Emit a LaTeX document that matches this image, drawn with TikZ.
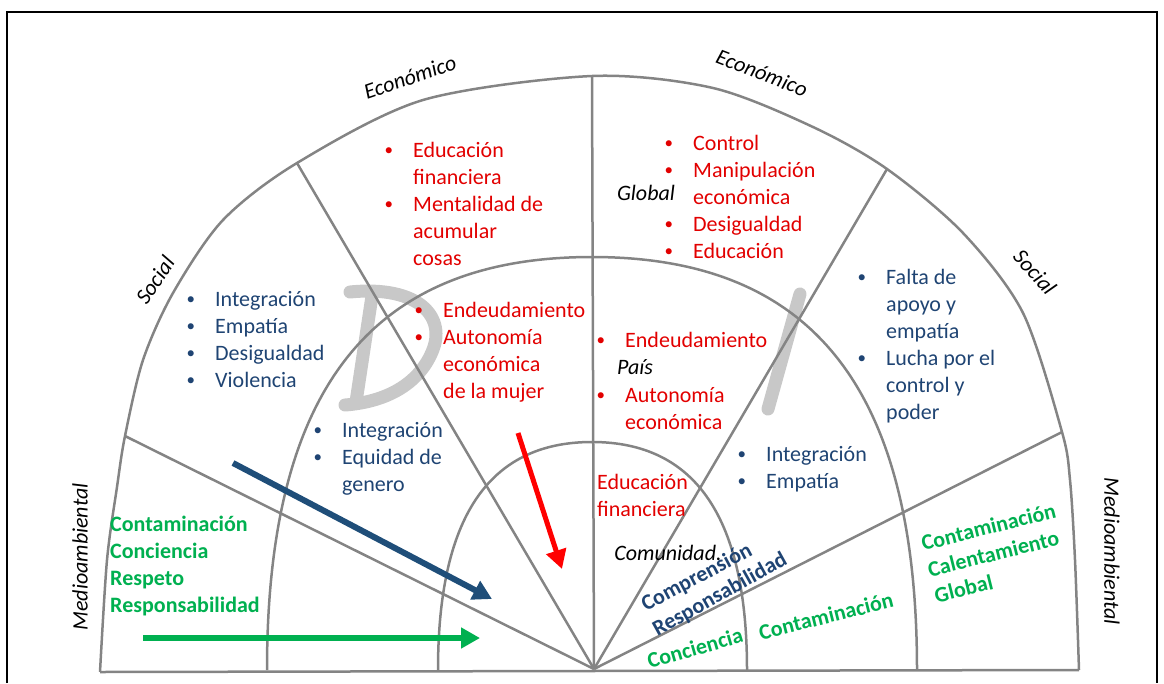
\documentclass[tikz,border=0pt]{standalone}
\usepackage{fontspec}
\setmainfont{Carlito}
\usetikzlibrary{arrows.meta}

\definecolor{linegray}{RGB}{132,132,132}
\definecolor{textred}{RGB}{226,0,0}
\definecolor{textblue}{RGB}{31,68,115}
\definecolor{arrowblue}{RGB}{31,78,121}
\definecolor{ecogreen}{RGB}{0,176,80}
\definecolor{lettergray}{RGB}{200,200,200}

\newcommand{\bitem}{\llap{\raisebox{1.5pt}{\fontsize{17}{17}\selectfont\textbullet}\hspace{20pt}}}

\begin{document}
\begin{tikzpicture}[x=1pt, y=-1pt,
  ring/.style={draw=linegray, line width=2.5pt},
  divider/.style={draw=linegray, line width=2.5pt},
  letterstroke/.style={draw=lettergray, line width=13pt, line cap=round, line join=round},
  bigarrow/.style={line width=6pt, -{Triangle[length=19pt,width=20pt]}},
  listtext/.style={align=left, anchor=base west, inner sep=0pt, font=\fontsize{22}{27}\selectfont},
  redlist/.style={listtext, text=textred},
  bluelist/.style={listtext, text=textblue},
  greenlist/.style={listtext, text=ecogreen, font=\fontsize{22}{27}\selectfont\bfseries},
  slanted/.style={inner sep=0pt, font=\fontsize{22}{27}\selectfont\bfseries},
  handlabel/.style={inner sep=0pt, font=\fontsize{22}{27}\selectfont\itshape}]

  \useasboundingbox (0,0) rectangle (1164,683);

  % Frame
  \draw[line width=2pt] (7,683) -- (7,12) -- (1157,12) -- (1157,683);

  % Define points
  \coordinate (o) at (594,669);
  \coordinate (baseleft) at (100,672);
  \coordinate (baseright) at (1079,670);
  \coordinate (medl) at (125,436);
  \coordinate (socl) at (297,163);
  \coordinate (top) at (592,76);
  \coordinate (socr) at (887,169);
  \coordinate (medr) at (1062,432);

  % Background letters
  \draw[letterstroke] (372,296) -- (356,402);
  \draw[letterstroke] (350,292) .. controls (420,285) and (447,318) .. (432,352) .. controls (418,385) and (385,402) .. (345,405);
  \draw[letterstroke] (800,294) -- (768,409);

  % Draw rings
  \draw[ring] plot[smooth] coordinates {(100,672) (107,560) (117,487) (125,436) (143,360) (173,293) (223,220) (297,163) (423,100) (592,76) (713,88) (813,127) (887,169) (963,233) (1023,313) (1062,432) (1070,480) (1075,560) (1079,670)};
  \draw[ring] (267,670) .. controls (267,389) and (371,257) .. (592,257) .. controls (813,257) and (917,389) .. (917,670);
  \draw[ring] (438,670) .. controls (438,520) and (487,442) .. (592,442) .. controls (697,442) and (747,520) .. (747,670);

  % Draw dividers
  \draw[divider] (baseleft) -- (baseright);
  \draw[divider] (medl) -- (o);
  \draw[divider] (socl) -- (o);
  \draw[divider] (top) -- (o);
  \draw[divider] (socr) -- (o);
  \draw[divider] (medr) -- (o);

  % Sector labels
  \node[handlabel, rotate=19] (econl) at (410,77) {Económico};
  \node[handlabel, rotate=-21] (econr) at (762,73) {Económico};
  \node[handlabel, rotate=56] (sociall) at (155,280) {Social};
  \node[handlabel, rotate=-48] (socialr) at (1035,272) {Social};
  \node[handlabel, rotate=90] (mediol) at (80,557) {Medioambiental};
  \node[handlabel, rotate=-90] (medior) at (1112,551) {Medioambiental};

  % Ring labels
  \node[handlabel] (global) at (646,193) {Global};
  \node[handlabel] (pais) at (635,367) {País};
  \node[handlabel] (comunidad) at (668,553) {Comunidad.};

  % Economic items
  \node[redlist] (ecoouterl) at (413,265) {\bitem Educación\\financiera\\\bitem Mentalidad de\\acumular\\cosas};
  \node[redlist] (ecomidl) at (443,398) {\bitem Endeudamiento\\\bitem Autonomía\\económica\\de la mujer};
  \node[redlist] (ecoouterr) at (693,258) {\bitem Control\\\bitem Manipulación\\económica\\\bitem Desigualdad\\\bitem Educación};
  \node[redlist] (ecomidr) at (625,347) {\bitem Endeudamiento};
  \node[redlist] (ecomidr2) at (625,429) {\bitem Autonomía\\económica};
  \node[redlist] (ecoinner) at (597,516) {Educación\\financiera};

  % Social items
  \node[bluelist] (socouterl) at (215,387) {\bitem Integración\\\bitem Empatía\\\bitem Desigualdad\\\bitem Violencia};
  \node[bluelist] (socmidl) at (342,491) {\bitem Integración\\\bitem Equidad de\\genero};
  \node[bluelist] (socouterr) at (886,419) {\bitem Falta de\\apoyo y\\empatía\\\bitem Lucha por el\\control y\\poder};
  \node[bluelist] (socmidr) at (766,488) {\bitem Integración\\\bitem Empatía};
  \node[slanted, text=textblue, rotate=28] (compr) at (697,578) {Comprensión};
  \node[slanted, text=textblue, rotate=29] (resp) at (720,595) {Responsabilidad};

  % Environment items
  \node[greenlist] (medouterl) at (110,612) {Contaminación\\Conciencia\\Respeto\\Responsabilidad};
  \node[slanted, text=ecogreen, rotate=16] (conc) at (695,648) {Conciencia};
  \node[slanted, text=ecogreen, rotate=14] (contmid) at (826,616) {Contaminación};
  \node[slanted, text=ecogreen, rotate=14, align=left] (medouterr) at (995,553) {Contaminación\\Calentamiento\\Global};

  % Arrows
  \coordinate (bluefrom) at (233,463);
  \coordinate (blueto) at (492,599);
  \coordinate (greenfrom) at (143,638);
  \coordinate (greento) at (480,638);
  \coordinate (redfrom) at (518,433);
  \coordinate (redto) at (562,569);
  \draw[bigarrow, arrowblue] (bluefrom) -- (blueto);
  \draw[bigarrow, ecogreen] (greenfrom) -- (greento);
  \draw[bigarrow, red, line width=5pt] (redfrom) -- (redto);

\end{tikzpicture}
\end{document}
